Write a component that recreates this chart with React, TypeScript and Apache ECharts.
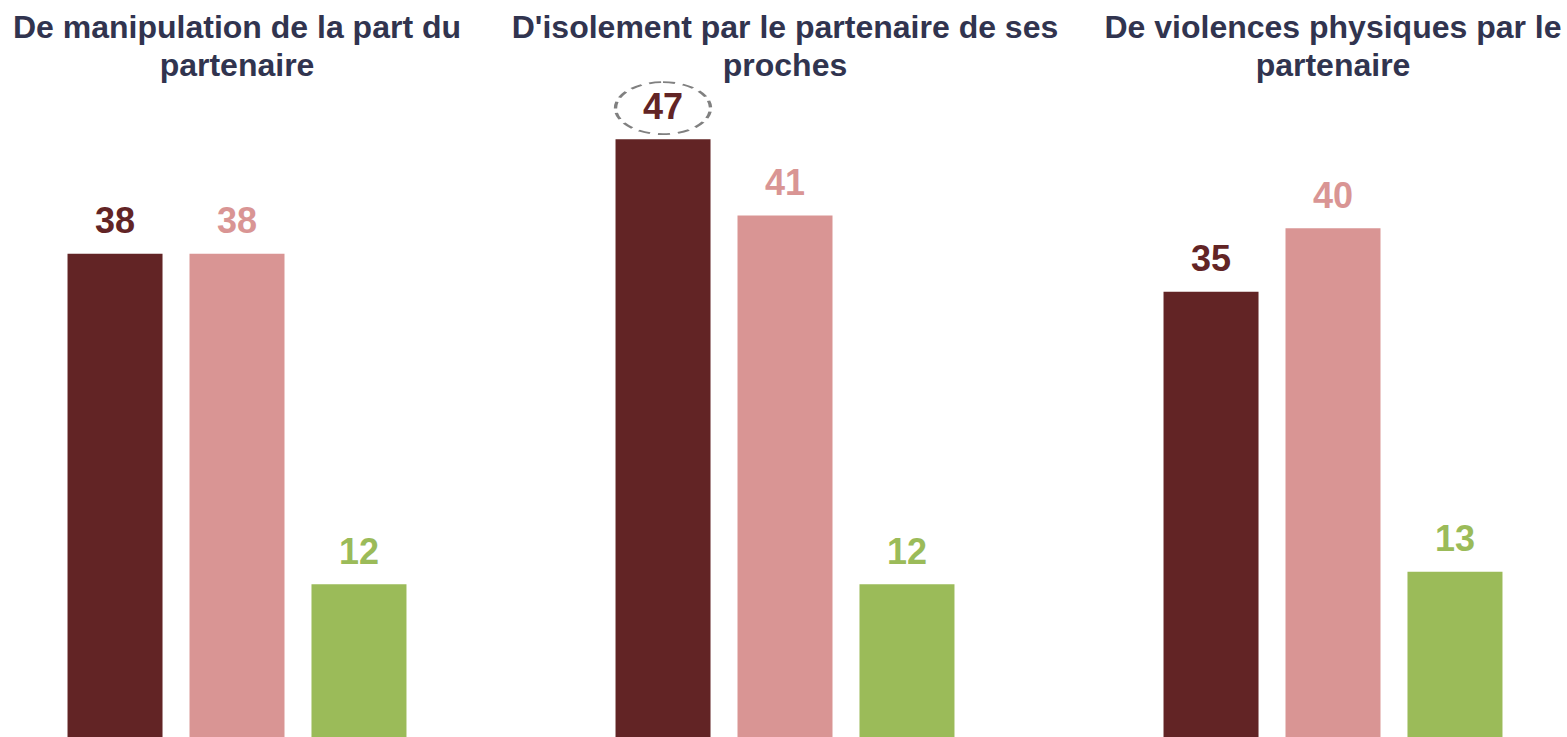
import React, { useEffect, useRef } from "react";
import * as echarts from "echarts";

const categories = [
  "De manipulation de la part du\npartenaire",
  "D'isolement par le partenaire de ses\nproches",
  "De violences physiques par le\npartenaire",
];
const seriesA = [38, 47, 35];
const seriesB = [38, 41, 40];
const seriesC = [12, 12, 13];
const colors = ["#622425", "#D99594", "#9BBB59"];
const highlightIndex = 1;

export default function App() {
  const ref = useRef<HTMLDivElement>(null);
  useEffect(() => {
    document.body.style.margin = "0";
    const chart = echarts.init(ref.current!, null, { renderer: "svg" });
    const font = "'Liberation Sans', Arial, sans-serif";
    const mkSeries = (name: string, data: number[], color: string, extra: any = {}) => ({
      name,
      type: "bar",
      data,
      barWidth: 95,
      barGap: "28.4%",
      itemStyle: { color },
      label: {
        show: true,
        position: "top",
        distance: 15,
        color,
        fontSize: 36,
        lineHeight: 36,
        fontWeight: "bold",
        fontFamily: font,
      },
      ...extra,
    });
    chart.setOption({
      animation: false,
      grid: { left: 0, right: 0, top: 101, bottom: -3, containLabel: false },
      xAxis: {
        type: "category",
        data: categories,
        position: "top",
        axisLine: { show: false },
        axisTick: { show: false },
        axisLabel: {
          interval: 0,
          margin: 17,
          color: "#31344F",
          fontSize: 32,
          lineHeight: 38,
          fontWeight: "bold",
          fontFamily: font,
          align: "center",
        },
      },
      yAxis: { type: "value", min: 0, max: 50, show: false, splitLine: { show: false } },
      series: [
        mkSeries("A", seriesA, colors[0], {
          markPoint: {
            symbol: "path://M0,-1A1,1,0,1,1,0,1A1,1,0,1,1,0,-1Z",
            symbolSize: [95, 52],
            symbolKeepAspect: false,
            symbolOffset: [0, -31],
            label: { show: false },
            itemStyle: {
              color: "rgba(0,0,0,0)",
              borderColor: "#808080",
              borderWidth: 2.5,
              borderType: [9, 6],
            },
            emphasis: { disabled: true },
            data: [{ coord: [highlightIndex, seriesA[highlightIndex]] }],
          },
        }),
        mkSeries("B", seriesB, colors[1]),
        mkSeries("C", seriesC, colors[2]),
      ],
    });
    return () => chart.dispose();
  }, []);
  return (
    <div style={{ width: 1567, height: 737, overflow: "hidden", position: "relative" }}>
      <div ref={ref} style={{ width: 1644, height: 737, position: "absolute", left: -37, top: 0 }} />
    </div>
  );
}
